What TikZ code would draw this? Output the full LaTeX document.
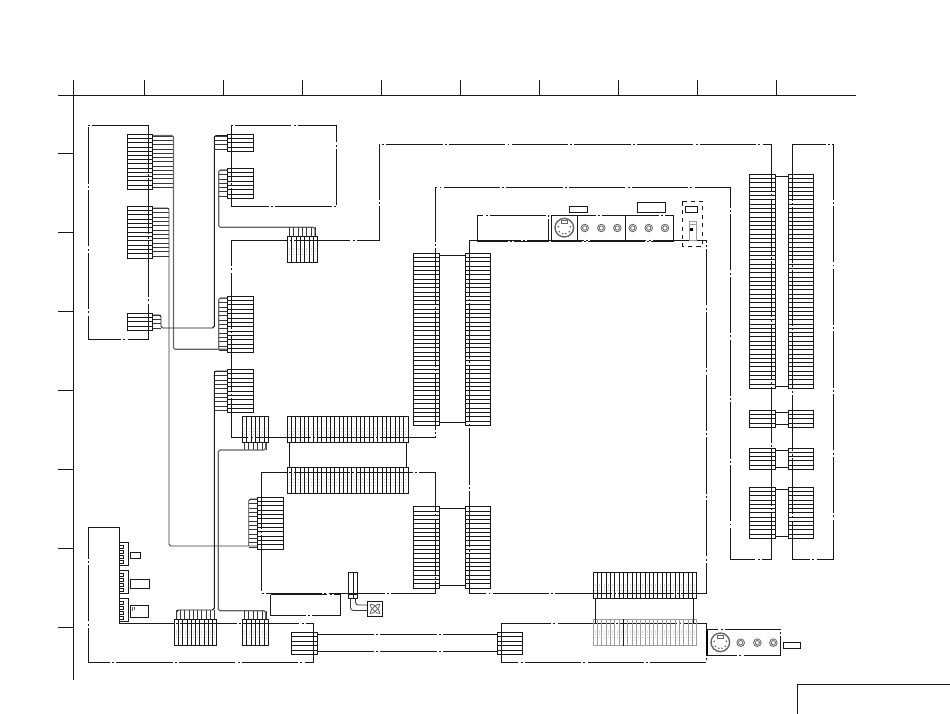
\documentclass[tikz,border=0pt]{standalone}
\usetikzlibrary{calc}
% striped connector blocks: rows (hconn) or columns (vconn)
\def\hconn[#1](#2,#3)(#4,#5:#6){\draw[#1] (#2,#3) rectangle (#4,#5);
	\foreach \i in {1,...,#6}{\draw[#1] (#2,{#3+\i*(#5-#3)/#6}) -- (#4,{#3+\i*(#5-#3)/#6});}}
\def\vconn[#1](#2,#3)(#4,#5:#6){\draw[#1] (#2,#3) rectangle (#4,#5);
	\foreach \i in {1,...,#6}{\draw[#1] ({#2+\i*(#4-#2)/#6},#3) -- ({#2+\i*(#4-#2)/#6},#5);
		\draw[speck] ({#2+(\i-0.5)*(#4-#2)/#6},{#3+0.45*(#5-#3)}) -- ({#2+(\i-0.5)*(#4-#2)/#6},{#3+0.68*(#5-#3)});}}
% short wires leaving a block
\def\hwires[#1](#2:#3)(#4,#5:#6){\foreach \i in {1,...,#6}{\draw[#1] (#2,{#4+(\i-0.5)*(#5-#4)/#6}) -- (#3,{#4+(\i-0.5)*(#5-#4)/#6});}}
\def\vwires[#1](#2,#3:#4)(#5:#6){\foreach \i in {1,...,#4}{\draw[#1] ({#2+(\i-0.5)*(#3-#2)/#4},#5) -- ({#2+(\i-0.5)*(#3-#2)/#4},#6);}}
% round jack and video socket
\def\jack(#1,#2){\draw[ring] (#1,#2) circle (3.8); \draw[ring] (#1,#2) circle (2.2);}
\def\socket(#1,#2){\draw[ring, line width=0.35mm] (#1,#2) circle (9.3);
	\draw[ring] (#1-3,#2-7) rectangle (#1+3,#2-4);
	\foreach \a/\b in {-6/-1, 6/-1, -5/4, 5/4, -1.5/6, 1.5/6}{\fill[black!60] (#1+\a,#2+\b) circle (0.9);}}
\tikzset{
	line/.style={line width=0.24mm, color=black!90},
	board/.style={line width=0.24mm, color=black!90, dash pattern=on 40pt off 1.6pt on 1.4pt off 1.6pt},
	wire/.style={line width=0.22mm, color=black!78},
	bundle/.style={line width=0.3mm, color=black!60, rounded corners=1.2},
	ghost/.style={line width=0.24mm, color=black!38},
	speck/.style={line width=0.2mm, color=black!18, dash pattern=on 1pt off 1pt},
	ring/.style={line width=0.2mm, color=black!60},
}
\begin{document}
\begin{tikzpicture}[x=0.25mm, y=-0.25mm]
	\useasboundingbox (0, 0) rectangle (950, 714);
	%%%%% START %%%%%

	% sheet grid
	\draw[line] (73, 80) -- (73, 680);
	\draw[line] (58, 95) -- (856, 95);
	\foreach \x in {144, 223, 302, 381, 460, 539, 618, 697, 776}{\draw[line] (\x, 80) -- (\x, 95);}
	\foreach \y in {153, 232, 311, 390, 469, 548, 627}{\draw[line] (58, \y) -- (73, \y);}
	\draw[line] (797, 714) -- (797, 684) -- (950, 684);

	% boards
	\draw[board] (148.5, 125) -- (88.3, 125) -- (88.3, 339) -- (148.5, 339) -- cycle;
	\draw[board] (231.5, 125) rectangle (336.7, 206.5);
	\draw[board] (231.5, 240.3) -- (379, 240.3) -- (379, 144.3) -- (771, 144.3) -- (771, 559) -- (730.3, 559)
		-- (730.3, 187.3) -- (435.5, 187.3) -- (435.5, 437.3) -- (231.5, 437.3) -- cycle;
	\draw[board] (261.5, 472.3) rectangle (435.5, 593.3);
	\draw[board] (270.3, 594.5) rectangle (340.7, 615.3);
	\draw[board] (469.5, 240.3) rectangle (706.5, 593.3);
	\draw[board] (792.3, 144.3) rectangle (833.3, 559);
	\draw[board] (88.3, 527.3) -- (119.3, 527.3) -- (119.3, 623.3) -- (313.7, 623.3) -- (313.7, 662.5) -- (88.3, 662.5) -- cycle;
	\draw[board] (501.3, 623.3) rectangle (706.5, 662.5);

	% top input panels
	\draw[board] (477.3, 215.3) rectangle (548.7, 241);
	\draw[board] (551.3, 215.3) rectangle (673.3, 241);
	\draw[line] (577.3, 215.3) -- (577.3, 241);
	\draw[line] (625.7, 215.3) -- (625.7, 241);
	\draw[line] (569.3, 206.3) rectangle (587.7, 212.7);
	\draw[line] (637.3, 202.3) rectangle (665.7, 212.7);
	\socket(564.3, 227.7)
	\foreach \x in {584.7, 601.3, 617.3, 632.7, 648.7, 665}{\jack(\x, 228)}
	\draw[line, dashed] (682.3, 201.3) rectangle (702.7, 246.3);
	\draw[line] (685.3, 206.7) rectangle (697.7, 212.7);
	\draw[ghost] (689.3, 221) rectangle (696, 240);
	\draw[ghost] (689.3, 224) -- (696, 224);
	\draw[fill=black] (690, 228) rectangle (692, 230.5);

	% bottom input panel
	\draw[board] (707, 629.3) rectangle (780.7, 655.3);
	\draw[line width=0.45mm] (707, 631) -- (707, 654);
	\socket(720.3, 642.3)
	\foreach \x in {740.7, 757.3, 773.3}{\jack(\x, 642.7)}
	\draw[line] (783.3, 642.3) rectangle (800.7, 648.7);

	% wires, upper left
	\hwires[wire](152.6:173.5)(134.3, 189.3:13);
	\draw[bundle] (152.6, 135.5) -- (173.5, 135.5) -- (173.5, 349.3) -- (227.3, 349.3);
	\hwires[wire](152.6:169)(206.3, 258.3:12);
	\draw[wire, rounded corners=1.2] (152.6, 208) -- (169, 208) -- (169, 546) -- (257.3, 546);
	\hwires[wire](152.6:161)(313.3, 330.3:4);
	\draw[line, rounded corners=1.2] (152.6, 315) -- (161, 315) -- (161, 328) -- (214.3, 328) -- (214.3, 135.6) -- (227.3, 135.6);
	\hwires[wire](214.3:227.3)(134.3, 151.3:4);
	\hwires[wire](218.7:227.3)(168.3, 198.3:7);
	\draw[bundle] (227.3, 170) -- (218.7, 170) -- (218.7, 227.3) -- (315, 227.3) -- (315, 236.3);
	\vwires[wire](287.3, 317.7:7)(227.3:236.3);
	\hwires[wire](218.7:227.3)(296.3, 352.7:13);
	\draw[bundle] (227.3, 298) -- (218.7, 298) -- (218.7, 349.3);
	\hwires[wire](214.3:227.3)(369.3, 412.7:10);
	\draw[line, rounded corners=1.2] (227.3, 371) -- (214.3, 371) -- (214.3, 610) -- (176.7, 610) -- (176.7, 619.3);
	\vwires[wire](174.3, 216.7:10)(610:619.3);
	\hwires[wire](248.7:257.3)(497.3, 549.3:12);
	\draw[wire, rounded corners=1.2] (257.3, 499) -- (248.7, 499) -- (248.7, 546);
	\vwires[wire](242.3, 268.7:6)(442.3:450);
	\draw[bundle] (265.7, 442.3) -- (265.7, 450) -- (218.3, 450) -- (218.3, 610.7) -- (265.7, 610.7) -- (265.7, 619.3);
	\vwires[wire](242.3, 268.7:6)(610.7:619.3);

	% connectors, upper left
	\hconn[line](127.3, 134.3)(152.6, 189.3:13);
	\hconn[line](127.3, 206.3)(152.6, 258.3:12);
	\hconn[line](127.3, 313.3)(152.6, 330.3:4);
	\hconn[line](227.3, 134.3)(253.3, 151.3:4);
	\hconn[line](227.3, 168.3)(253.3, 198.3:7);
	\hconn[line](227.3, 296.3)(253.3, 352.7:13);
	\hconn[line](227.3, 369.3)(253.3, 412.7:10);
	\hconn[line](257.3, 497.3)(283.3, 549.3:12);
	\vconn[line](287.3, 236.3)(317.7, 262.7:7);
	\vconn[line](242.3, 416.3)(268.7, 442.3:6);
	\vconn[line](174.3, 619.3)(216.7, 645.7:10);
	\vconn[line](242.3, 619.3)(268.7, 645.7:6);

	% middle connectors
	\vconn[line](287.3, 416.3)(408, 442.3:28);
	\vconn[line](287.3, 467.3)(408, 493.3:28);
	\draw[line] (289.3, 442.3) -- (289.3, 467.3);
	\draw[line] (406, 442.3) -- (406, 467.3);
	\hconn[line](413.3, 253.3)(439.3, 425.3:40);
	\hconn[line](465, 253.3)(490.3, 425.3:40);
	\draw[line] (439.3, 255.3) -- (465, 255.3);
	\draw[line] (439.3, 422.3) -- (465, 422.3);
	\hconn[line](413.3, 506.7)(439.3, 588:19);
	\hconn[line](465, 506.7)(490.3, 588:19);
	\draw[line] (439.3, 508.3) -- (465, 508.3);
	\draw[line] (439.3, 585.5) -- (465, 585.5);

	% lower connectors
	\vconn[line](593.3, 572.3)(696.7, 598.7:24);
	\vconn[ghost](593.3, 619.3)(696.7, 645.7:24);
	\draw[line] (623.3, 619.3) -- (623.3, 645.7);
	\draw[line] (595.3, 598.7) -- (595.3, 623.3);
	\draw[line] (693.3, 598.7) -- (693.3, 623.3);
	\hconn[line](291.3, 632.3)(317.7, 654.7:5);
	\hconn[line](497.3, 632.3)(522.7, 654.7:5);
	\draw[board] (317.7, 634.3) -- (497.3, 634.3);
	\draw[board] (317.7, 651.3) -- (497.3, 651.3);

	% right connectors
	\hconn[line](749.3, 174.3)(775.3, 388.3:50);
	\hconn[line](788.3, 174.3)(813.7, 388.3:50);
	\draw[line] (775.3, 176.3) -- (788.3, 176.3);
	\draw[line] (775.3, 386.3) -- (788.3, 386.3);
	\hconn[line](749.3, 410.3)(775.3, 427.3:4);
	\hconn[line](788.3, 410.3)(813.7, 427.3:4);
	\draw[line] (775.3, 412.3) -- (788.3, 412.3);
	\draw[line] (775.3, 424.3) -- (788.3, 424.3);
	\hconn[line](749.3, 448.3)(775.3, 469.3:5);
	\hconn[line](788.3, 448.3)(813.7, 469.3:5);
	\draw[line] (775.3, 450.3) -- (788.3, 450.3);
	\draw[line] (775.3, 467.3) -- (788.3, 467.3);
	\hconn[line](749.3, 487.3)(775.3, 538.3:12);
	\hconn[line](788.3, 487.3)(813.7, 538.3:12);
	\draw[line] (775.3, 489.3) -- (788.3, 489.3);
	\draw[line] (775.3, 536.3) -- (788.3, 536.3);

	% small headers, lower left
	\foreach \y in {542.3, 570.3, 598.3}{
		\draw[line] (119.3, \y) rectangle (128.7, \y+23.4);
		\foreach \k in {0, 1, 2, 3}{\draw[line] (119.3, \y+3.5+\k*5) rectangle (123.7, \y+6.5+\k*5);}
	}
	\draw[line] (130.3, 552.3) rectangle (140.7, 558.7);
	\draw[line] (130.3, 579.3) rectangle (149.7, 588.7);
	\draw[line] (130.3, 605.3) rectangle (148.7, 617.7);
	\draw[ring] (132, 607) -- (132, 611);
	\draw[ring] (134, 607) -- (134, 610);

	% fan
	\draw[line] (348.3, 572.3) rectangle (357.7, 598.7);
	\draw[line] (353, 572.3) -- (353, 598.7);
	\draw[line] (348.3, 594.3) -- (357.7, 594.3);
	\draw[wire, rounded corners=2] (350.5, 598.7) -- (350.5, 610.5) -- (367.3, 610.5);
	\draw[wire, rounded corners=2] (355.5, 598.7) -- (355.5, 605) -- (367.3, 605);
	\draw[line] (367.3, 601) rectangle (382.7, 616.7);
	\draw[ring, rotate around={45:(375, 608.8)}] (375, 608.8) ellipse (6.5 and 2);
	\draw[ring, rotate around={45:(375, 608.8)}] (375, 608.8) ellipse (2 and 6.5);

	%%%%% END %%%%%
\end{tikzpicture}
\end{document}
